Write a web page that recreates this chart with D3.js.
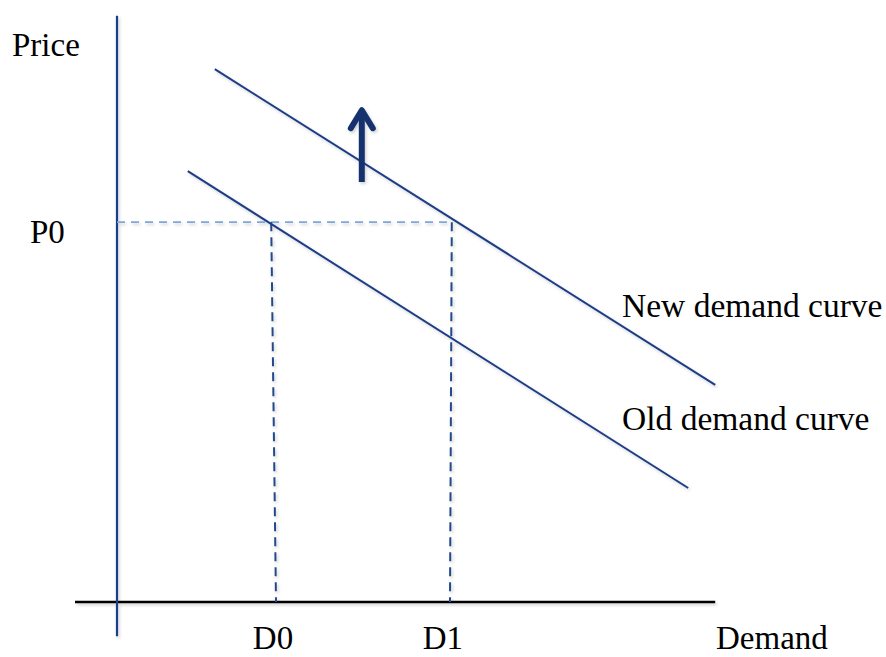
<!DOCTYPE html>
<html>
<head>
<meta charset="utf-8">
<script src="https://cdn.jsdelivr.net/npm/d3@7"></script>
<style>
  body { margin: 0; background: #fff; }
  text { font-family: "Liberation Serif", "DejaVu Serif", serif; fill: #000; }
</style>
</head>
<body>
<div id="chart"></div>
<script>
// #####################################################
// Data (quantity 0..100, price 0..100)
//
var oldCurve = [{q: 11.8, p: 71.8}, {q: 95.2, p: 19.0}];
var newCurve = [{q: 16.3, p: 88.8}, {q: 99.7, p: 36.2}];
var priceP0 = 63.3;
var d0Line = [{q: 25.7, p: 63.3}, {q: 26.5, p: 0}];
var d1Line = [{q: 55.8, p: 63.3}, {q: 55.5, p: 0}];
var shiftArrow = [{q: 40.8, p: 70.0}, {q: 40.8, p: 82.3}];
var xTicks = [{q: 26, label: "D0"}, {q: 54.3, label: "D1"}];
var yTicks = [{p: 63.3, label: "P0"}];

var width = 886, height = 657;

var svg = d3.select("#chart").append("svg")
    .attr("width", width)
    .attr("height", height);

// set the scales
var x = d3.scaleLinear().domain([0, 100]).range([117, 717]);
var y = d3.scaleLinear().domain([0, 100]).range([602, 2]);

var line = d3.line()
    .x(function(d) { return x(d.q); })
    .y(function(d) { return y(d.p); });

// soft shadow like the original drawing
var defs = svg.append("defs");
var f = defs.append("filter").attr("id", "shadow")
    .attr("x", "-20%").attr("y", "-20%").attr("width", "140%").attr("height", "140%");
f.append("feDropShadow").attr("dx", 1.5).attr("dy", 2).attr("stdDeviation", 1.5)
    .attr("flood-color", "#000").attr("flood-opacity", 0.18);

var g = svg.append("g").attr("filter", "url(#shadow)");

// horizontal axis
g.append("path")
    .attr("d", line([{q: -7, p: 0}, {q: 99.7, p: 0}]))
    .style("stroke", "#000").style("stroke-width", 2.5).style("fill", "none");

// vertical axis
g.append("path")
    .attr("d", line([{q: 0, p: -5.7}, {q: 0, p: 97.7}]))
    .style("stroke", "#1f3d8a").style("stroke-width", 2.2).style("fill", "none");

// P0 guide
g.append("path")
    .attr("d", line([{q: 0, p: priceP0}, {q: 56, p: priceP0}]))
    .style("stroke", "#7ea8d8").style("stroke-width", 1.8)
    .style("stroke-dasharray", "8,6").style("fill", "none");

// D0 / D1 guides
[d0Line, d1Line].forEach(function(d) {
  g.append("path")
      .attr("d", line(d))
      .style("stroke", "#234a8c").style("stroke-width", 2)
      .style("stroke-dasharray", "9,6").style("fill", "none");
});

// demand curves
[oldCurve, newCurve].forEach(function(d) {
  g.append("path")
      .attr("d", line(d))
      .style("stroke", "#1f3d85").style("stroke-width", 2).style("fill", "none");
});

// shift arrow
var ax = x(shiftArrow[0].q), ay1 = y(shiftArrow[1].p);
g.append("path")
    .attr("d", line([shiftArrow[0], {q: shiftArrow[1].q, p: shiftArrow[1].p - 0.6}]))
    .style("stroke", "#17326e").style("stroke-width", 6).style("fill", "none");
g.append("path")
    .attr("d", "M" + (ax - 11) + "," + (ay1 + 20) + "L" + ax + "," + (ay1 + 2) + "L" + (ax + 11) + "," + (ay1 + 20))
    .style("stroke", "#17326e").style("stroke-width", 6)
    .style("stroke-linecap", "round").style("stroke-linejoin", "round")
    .style("fill", "none");

// labels
svg.append("text").attr("x", 12).attr("y", 56).style("font-size", "33px").text("Price");

yTicks.forEach(function(t) {
  svg.append("text").attr("x", 30).attr("y", y(t.p) + 21)
      .style("font-size", "33px").text(t.label);
});

xTicks.forEach(function(t) {
  svg.append("text").attr("x", x(t.q)).attr("y", 649)
      .attr("text-anchor", "middle")
      .style("font-size", "33px").text(t.label);
});

svg.append("text").attr("x", 716).attr("y", 649).style("font-size", "33px").text("Demand");
svg.append("text").attr("x", 622).attr("y", 317).style("font-size", "33.5px").text("New demand curve");
svg.append("text").attr("x", 622).attr("y", 430).style("font-size", "33.5px").text("Old demand curve");
</script>
</body>
</html>
